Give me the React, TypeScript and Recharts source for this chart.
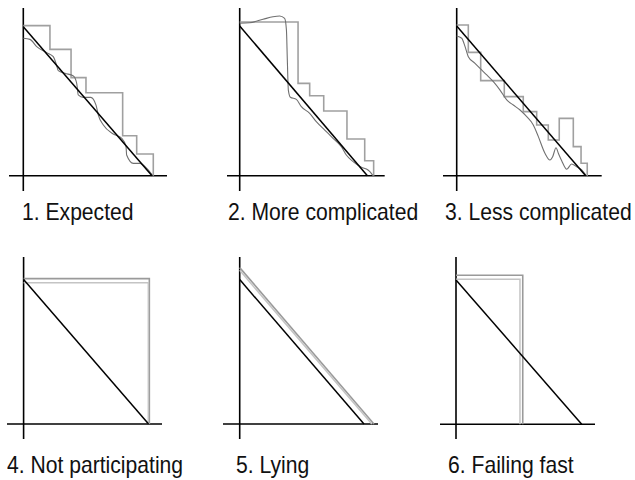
import React from 'react';
import { LineChart, Line, XAxis, YAxis, ReferenceLine } from 'recharts';

type Pt = { x: number; y: number };

// Ideal (black diagonal) in every panel
const ideal: Pt[] = [
  { x: 0, y: 100 },
  { x: 100, y: 0 },
];

// 1. Expected
const expectedSteps: Pt[] = [
  { x: 0, y: 100.7 }, { x: 20.7, y: 84.8 }, { x: 37.1, y: 65.8 }, { x: 48.7, y: 55.7 },
  { x: 77.2, y: 26.8 }, { x: 88.1, y: 14.6 }, { x: 101, y: 0 },
];
const expectedActual: Pt[] = [
  { x: 0, y: 92.2 }, { x: 5.2, y: 91.5 }, { x: 10.4, y: 86.6 }, { x: 18.2, y: 82.6 },
  { x: 23.3, y: 79.9 }, { x: 25.4, y: 75.4 }, { x: 27.2, y: 70.5 }, { x: 32.4, y: 68.7 },
  { x: 38.9, y: 66.9 }, { x: 41.5, y: 62 }, { x: 42.7, y: 54.2 }, { x: 46.6, y: 52.6 },
  { x: 52.4, y: 52.6 }, { x: 56.5, y: 47.4 }, { x: 58.3, y: 40.7 }, { x: 62.2, y: 34 },
  { x: 69.9, y: 28 }, { x: 76.5, y: 25.1 }, { x: 79.8, y: 19.5 }, { x: 80.3, y: 13.9 },
  { x: 85.5, y: 8.3 }, { x: 90.7, y: 8.3 }, { x: 95.9, y: 4.9 }, { x: 100.2, y: 0.5 },
];

// 2. More complicated
const moreSteps: Pt[] = [
  { x: 0, y: 102.7 }, { x: 45.7, y: 61.7 }, { x: 54.8, y: 53.4 }, { x: 65.8, y: 43.2 },
  { x: 84, y: 24.5 }, { x: 97.9, y: 10 }, { x: 104.9, y: 0 },
];
const moreActual: Pt[] = [
  { x: 0, y: 101.8 }, { x: 7.8, y: 102.2 }, { x: 18.3, y: 104.5 }, { x: 26.1, y: 106.2 },
  { x: 31.3, y: 106.7 }, { x: 35.2, y: 105.1 }, { x: 36.6, y: 97.3 }, { x: 37.3, y: 77.3 },
  { x: 38.1, y: 57.2 }, { x: 39.7, y: 52.4 }, { x: 44.4, y: 51 }, { x: 48.3, y: 46.1 },
  { x: 54.8, y: 41.7 }, { x: 60, y: 36.1 }, { x: 66.6, y: 30.5 }, { x: 73.1, y: 25 },
  { x: 79.6, y: 19.4 }, { x: 83.5, y: 13.8 }, { x: 88.8, y: 9.4 }, { x: 95.3, y: 5.6 },
  { x: 100.5, y: 3.8 }, { x: 103.1, y: 1.6 }, { x: 104.4, y: 0 },
];

// 3. Less complicated
const lessSteps: Pt[] = [
  { x: 0, y: 100.7 }, { x: 9, y: 82.4 }, { x: 18.6, y: 63.5 }, { x: 36.9, y: 52.8 },
  { x: 51.6, y: 42.8 }, { x: 62, y: 33.9 }, { x: 71, y: 23.8 }, { x: 79.5, y: 38.3 },
  { x: 90.4, y: 19.4 }, { x: 96.4, y: 8.3 }, { x: 101.2, y: 0 },
];
const lessActual: Pt[] = [
  { x: 0, y: 93.3 }, { x: 3.9, y: 91.8 }, { x: 6.5, y: 86.2 }, { x: 9, y: 79.5 },
  { x: 14.2, y: 75.1 }, { x: 18.1, y: 71.7 }, { x: 23.3, y: 67.3 }, { x: 28.4, y: 62.8 },
  { x: 33.6, y: 57.2 }, { x: 38.8, y: 50.6 }, { x: 43.9, y: 47.2 }, { x: 49.1, y: 43.9 },
  { x: 54.3, y: 39.4 }, { x: 59.4, y: 33.9 }, { x: 63.3, y: 26.1 }, { x: 68.4, y: 15 },
  { x: 72.3, y: 10.5 }, { x: 74.4, y: 12.7 }, { x: 77, y: 18.7 }, { x: 78.8, y: 15 },
  { x: 81.4, y: 10 }, { x: 85.3, y: 4.3 }, { x: 89.1, y: 7.8 }, { x: 93, y: 6 },
  { x: 96.9, y: 3.8 }, { x: 100, y: 0.5 },
];

// 4. Not participating
const notSteps: Pt[] = [{ x: 0, y: 100.7 }, { x: 100.6, y: 0 }];
const notActual: Pt[] = [{ x: 0, y: 97.9 }, { x: 99.8, y: 0 }];

// 5. Lying
const lyingSteps: Pt[] = [{ x: 0, y: 108.3 }, { x: 108, y: 0 }];
const lyingActual: Pt[] = [{ x: 0, y: 106.4 }, { x: 106.3, y: 0 }];

// 6. Failing fast
const failSteps: Pt[] = [{ x: 0, y: 103.2 }, { x: 53.1, y: 0 }];
const failActual: Pt[] = [{ x: 0, y: 100.4 }, { x: 50.9, y: 0 }];

const labels = [
  '1. Expected',
  '2. More complicated',
  '3. Less complicated',
  '4. Not participating',
  '5. Lying',
  '6. Failing fast',
];

type Layout = {
  box: { left: number; top: number; width: number; height: number };
  origin: { x: number; y: number };
  scale: { x: number; y: number };
  label: { left: number; top: number };
};

const layouts: Layout[] = [
  { box: { left: 9, top: 8, width: 158, height: 183 }, origin: { x: 23.3, y: 175.7 }, scale: { x: 1.287, y: 1.49 }, label: { left: 21.7, top: 199.7 } },
  { box: { left: 227.3, top: 8, width: 157.7, height: 183 }, origin: { x: 240, y: 175.7 }, scale: { x: 1.277, y: 1.497 }, label: { left: 227.7, top: 199.7 } },
  { box: { left: 443, top: 8, width: 158.7, height: 183 }, origin: { x: 456.7, y: 175.7 }, scale: { x: 1.29, y: 1.497 }, label: { left: 445, top: 199.7 } },
  { box: { left: 6.7, top: 256.7, width: 155.6, height: 182.6 }, origin: { x: 23.3, y: 423.7 }, scale: { x: 1.25, y: 1.444 }, label: { left: 6.7, top: 453 } },
  { box: { left: 223.3, top: 256.7, width: 155, height: 182.6 }, origin: { x: 240, y: 423.7 }, scale: { x: 1.243, y: 1.444 }, label: { left: 236, top: 453 } },
  { box: { left: 440, top: 256.7, width: 155, height: 182.6 }, origin: { x: 456, y: 424 }, scale: { x: 1.257, y: 1.444 }, label: { left: 448, top: 453 } },
];

type Series = { steps: Pt[]; actual: Pt[]; actualCurve: 'monotone' | 'stepAfter' | 'linear'; stepCurve: 'stepAfter' | 'linear'; stepColor: string; actualColor: string; actualWidth: number };

const series: Series[] = [
  { steps: expectedSteps, actual: expectedActual, actualCurve: 'monotone', stepCurve: 'stepAfter', stepColor: '#a0a0a0', actualColor: '#707070', actualWidth: 1.1 },
  { steps: moreSteps, actual: moreActual, actualCurve: 'monotone', stepCurve: 'stepAfter', stepColor: '#a0a0a0', actualColor: '#707070', actualWidth: 1.1 },
  { steps: lessSteps, actual: lessActual, actualCurve: 'monotone', stepCurve: 'stepAfter', stepColor: '#a0a0a0', actualColor: '#707070', actualWidth: 1.1 },
  { steps: notSteps, actual: notActual, actualCurve: 'stepAfter', stepCurve: 'stepAfter', stepColor: '#9a9a9a', actualColor: '#c4c4c4', actualWidth: 1.5 },
  { steps: lyingSteps, actual: lyingActual, actualCurve: 'linear', stepCurve: 'linear', stepColor: '#9a9a9a', actualColor: '#c4c4c4', actualWidth: 1.5 },
  { steps: failSteps, actual: failActual, actualCurve: 'stepAfter', stepCurve: 'stepAfter', stepColor: '#9a9a9a', actualColor: '#c4c4c4', actualWidth: 1.5 },
];

function Panel({ layout, s }: { layout: Layout; s: Series }) {
  const { box, origin, scale } = layout;
  const xmin = (box.left - origin.x) / scale.x;
  const xmax = (box.left + box.width - origin.x) / scale.x;
  const ymax = (origin.y - box.top) / scale.y;
  const ymin = (origin.y - (box.top + box.height)) / scale.y;
  return (
    <div style={{ position: 'absolute', left: box.left, top: box.top, width: box.width, height: box.height }}>
      <LineChart width={box.width} height={box.height} margin={{ top: 0, right: 0, bottom: 0, left: 0 }}>
        <XAxis type="number" dataKey="x" domain={[xmin, xmax]} allowDataOverflow hide />
        <YAxis type="number" dataKey="y" domain={[ymin, ymax]} allowDataOverflow hide />
        <ReferenceLine segment={[{ x: xmin, y: 0 }, { x: xmax, y: 0 }]} stroke="#000" strokeWidth={1.6} ifOverflow="visible" />
        <ReferenceLine segment={[{ x: 0, y: ymin }, { x: 0, y: ymax }]} stroke="#000" strokeWidth={1.6} ifOverflow="visible" />
        <Line data={s.steps} dataKey="y" type={s.stepCurve} stroke={s.stepColor} strokeWidth={1.6} dot={false} isAnimationActive={false} />
        <Line data={s.actual} dataKey="y" type={s.actualCurve} stroke={s.actualColor} strokeWidth={s.actualWidth} dot={false} isAnimationActive={false} />
        <Line data={ideal} dataKey="y" type="linear" stroke="#000" strokeWidth={1.5} dot={false} isAnimationActive={false} />
      </LineChart>
    </div>
  );
}

export default function App() {
  return (
    <div style={{ position: 'absolute', left: 0, top: 0, width: 635, height: 480, background: '#fff', overflow: 'hidden' }}>
      {layouts.map((l, i) => (
        <Panel key={i} layout={l} s={series[i]} />
      ))}
      {layouts.map((l, i) => (
        <div
          key={'lbl' + i}
          style={{
            position: 'absolute',
            left: l.label.left,
            top: l.label.top,
            fontFamily: "'Liberation Sans', Arial, sans-serif",
            fontSize: 24,
            lineHeight: '24px',
            color: '#111',
            whiteSpace: 'nowrap',
            transform: 'scaleX(0.88)',
            transformOrigin: '0 0',
          }}
        >
          {labels[i]}
        </div>
      ))}
    </div>
  );
}
